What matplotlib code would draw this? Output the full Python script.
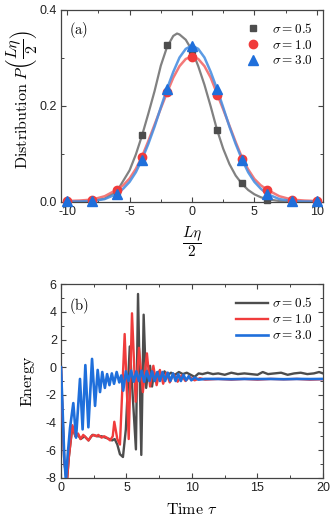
import matplotlib
matplotlib.use("Agg")
import matplotlib.pyplot as plt
from matplotlib.ticker import MultipleLocator

plt.rcParams['mathtext.fontset'] = 'cm'
plt.rcParams['font.family'] = ['Liberation Sans', 'DejaVu Sans']

# ---------------- Panel (a) data ----------------
sigma_labels = [r'$\sigma = 0.5$', r'$\sigma = 1.0$', r'$\sigma = 3.0$']

marker_x = [-10, -8, -6, -4, -2, 0, 2, 4, 6, 8, 10]
grey_pts = [0.0, 0.0, 0.022, 0.138, 0.327, 0.315, 0.148, 0.038, 0.004, 0.0, 0.0]
red_pts = [0.002, 0.003, 0.025, 0.093, 0.228, 0.302, 0.222, 0.089, 0.025, 0.003, 0.002]
blue_pts = [0.001, 0.001, 0.016, 0.086, 0.235, 0.324, 0.235, 0.087, 0.016, 0.001, 0.001]

grey_fit_x = [-10, -9, -8, -7, -6, -5, -4.5, -4, -3.5, -3, -2.5, -2, -1.5, -1.2, -1, -0.5,
              0, 0.5, 1, 1.5, 2, 2.5, 3, 3.5, 4, 4.5, 5, 5.5, 6, 7, 8, 9, 10]
grey_fit_y = [0, 0, 0.001, 0.006, 0.022, 0.065, 0.098, 0.138, 0.183, 0.23, 0.283, 0.322,
              0.345, 0.35, 0.348, 0.337, 0.315, 0.282, 0.243, 0.198, 0.15, 0.11, 0.078,
              0.054, 0.037, 0.024, 0.015, 0.009, 0.005, 0.001, 0, 0, 0]
fit_x = [-10, -9, -8, -7, -6, -5.5, -5, -4.5, -4, -3.5, -3, -2.5, -2, -1.5, -1, -0.5, 0,
         0.5, 1, 1.5, 2, 2.5, 3, 3.5, 4, 4.5, 5, 5.5, 6, 7, 8, 9, 10]
red_fit_y = [0.001, 0.002, 0.004, 0.011, 0.025, 0.034, 0.048, 0.068, 0.094, 0.126, 0.160,
             0.194, 0.227, 0.258, 0.282, 0.297, 0.302, 0.297, 0.282, 0.258, 0.225, 0.192,
             0.158, 0.124, 0.092, 0.067, 0.047, 0.034, 0.025, 0.011, 0.004, 0.002, 0.001]
blue_fit_y = [0, 0, 0.001, 0.005, 0.016, 0.027, 0.041, 0.061, 0.088, 0.12, 0.156, 0.196,
              0.235, 0.27, 0.3, 0.318, 0.325, 0.318, 0.3, 0.27, 0.235, 0.196, 0.156, 0.12,
              0.088, 0.061, 0.041, 0.027, 0.016, 0.005, 0.001, 0, 0]

# ---------------- Panel (b) data ----------------
tau_grey = [0, 0.1, 0.25, 0.45, 0.6, 0.87, 1.1, 1.3, 1.5, 1.8, 2.1, 2.4, 2.8, 3.1, 3.4,
            3.7, 3.9, 4.1, 4.3, 4.5, 4.73, 4.95, 5.25, 5.72, 5.88, 6.13, 6.31, 6.5, 6.65,
            6.8, 6.95, 7.1, 7.3, 7.5, 7.7, 7.9, 8.1, 8.4, 8.7, 9.0, 9.3, 9.6, 9.9, 10.2,
            10.5, 10.8, 11.2, 11.6, 12.0, 12.5, 13.0, 13.5, 14.0, 14.5, 15.0, 15.4, 15.8,
            16.3, 16.8, 17.3, 17.8, 18.3, 18.8, 19.3, 19.7, 20.0]
energy_grey = [0, -3.0, -6.8, -8.3, -6.5, -4.3, -5.0, -4.9, -5.2, -5.0, -5.3, -4.9, -5.0,
               -5.0, -5.1, -5.2, -5.3, -5.2, -5.6, -6.3, -6.5, -4.5, 1.5, -5.95, 5.3,
               -6.35, 3.8, -1.5, -0.3, 0.1, -1.4, -0.4, -1.0, -0.3, -0.8, -0.3, -0.6,
               -0.4, -0.55, -0.35, -0.5, -0.4, -0.55, -0.7, -0.45, -0.5, -0.4, -0.5,
               -0.45, -0.55, -0.4, -0.5, -0.45, -0.5, -0.55, -0.35, -0.5, -0.45, -0.4,
               -0.55, -0.45, -0.4, -0.5, -0.45, -0.35, -0.45]

tau_red = [0, 0.1, 0.25, 0.45, 0.6, 0.87, 1.1, 1.3, 1.5, 1.7, 1.9, 2.1, 2.3, 2.5, 2.7,
           2.85, 3.1, 3.3, 3.5, 3.75, 3.95, 4.07, 4.3, 4.5, 4.86, 5.17, 5.42, 5.7, 5.95,
           6.25, 6.56, 6.8, 7.05, 7.3, 7.55, 7.8, 8.05, 8.3, 8.6, 8.9, 9.2, 9.5, 9.8,
           10.2, 10.6, 11.0, 12.0, 13.0, 14.0, 15.0, 16.0, 17.0, 18.0, 19.0, 20.0]
energy_red = [0, -3.0, -6.8, -8.3, -6.5, -4.2, -5.0, -4.8, -5.2, -4.9, -5.1, -5.3, -5.0,
              -4.9, -5.0, -4.9, -5.1, -5.0, -5.1, -5.3, -5.0, -3.95, -5.2, -5.6, 2.4,
              -5.2, 3.9, -2.5, 1.4, -1.8, 1.0, -1.4, 0.1, -1.3, -0.2, -1.2, -0.4, -1.1,
              -0.5, -1.05, -0.6, -1.0, -0.7, -0.95, -0.8, -0.9, -0.85, -0.9, -0.85, -0.9,
              -0.85, -0.88, -0.85, -0.9, -0.87]

tau_blue = [0, 0.1, 0.25, 0.38, 0.5, 0.69, 0.94, 1.15, 1.45, 1.65, 1.86, 2.09, 2.37, 2.6,
            2.8, 2.98, 3.15, 3.35, 3.52, 3.7, 3.88, 4.05, 4.25, 4.45, 4.6, 4.75, 4.95,
            5.15, 5.35, 5.55, 5.75, 5.95, 6.15, 6.35, 6.55, 6.75, 6.95, 7.15, 7.35, 7.55,
            7.75, 7.95, 8.15, 8.35, 8.55, 8.75, 8.95, 9.15, 9.35, 9.55, 9.75, 9.95, 10.2,
            10.5, 11.0, 12.0, 13.0, 14.0, 15.0, 16.0, 17.0, 18.0, 19.0, 20.0]
energy_blue = [0, -2.5, -6.5, -8.3, -6.5, -4.4, -2.6, -5.1, -0.85, -4.5, 0.15, -4.35, 0.6,
               -2.8, -0.2, -1.8, -0.35, -1.5, -0.5, -1.3, -0.45, -1.2, -0.35, -1.1, -0.6,
               -1.7, -0.3, -1.0, -0.25, -1.05, -0.3, -1.0, -0.25, -1.05, -0.3, -1.0, -0.3,
               -1.0, -0.35, -1.0, -0.35, -1.0, -0.4, -1.0, -0.45, -1.0, -0.5, -1.0, -0.55,
               -0.95, -0.65, -0.95, -0.75, -0.9, -0.85, -0.85, -0.87, -0.85, -0.86, -0.85,
               -0.87, -0.85, -0.86, -0.85]

GREY = '#4d4d4d'
RED = '#f03c3c'
BLUE = '#1f6fdb'

fig = plt.figure(figsize=(3.32, 5.2), dpi=100)
ax1 = fig.add_axes([0.1837, 0.6125, 0.7892, 0.3692])
ax2 = fig.add_axes([0.1837, 0.0813, 0.7892, 0.3720])

def style_axes(ax):
    for s in ax.spines.values():
        s.set_color('#444444')
        s.set_linewidth(0.9)
    ax.tick_params(which='both', direction='in', top=True, right=True,
                   labelsize=9, colors='#444444', labelcolor='#222222', pad=3)
    ax.tick_params(which='major', length=3.5, width=0.8)
    ax.tick_params(which='minor', length=2, width=0.7)

# Panel (a)
ax1.plot(grey_fit_x, grey_fit_y, color='#7a7a7a', lw=1.6, alpha=0.95, zorder=2)
ax1.plot(fit_x, red_fit_y, color='#f26a6a', lw=1.8, alpha=0.9, zorder=2)
ax1.plot(fit_x, blue_fit_y, color='#4a90e2', lw=1.8, alpha=0.9, zorder=2)
ax1.plot(marker_x, grey_pts, 's', color=GREY, ms=5, ls='none', label=sigma_labels[0],
         clip_on=False, zorder=3)
ax1.plot(marker_x, red_pts, 'o', color=RED, ms=6, ls='none', label=sigma_labels[1],
         clip_on=False, zorder=3)
ax1.plot(marker_x, blue_pts, '^', color=BLUE, ms=6.5, ls='none', label=sigma_labels[2],
         clip_on=False, zorder=4)
ax1.set_xlim(-10.5, 10.5)
ax1.set_ylim(0, 0.4)
ax1.xaxis.set_major_locator(MultipleLocator(5))
ax1.xaxis.set_minor_locator(MultipleLocator(2.5))
ax1.yaxis.set_major_locator(MultipleLocator(0.2))
ax1.yaxis.set_minor_locator(MultipleLocator(0.1))
ax1.set_xticks([-10, -5, 0, 5, 10])
ax1.set_xticklabels(['-10', '-5', '0', '5', '10'])
ax1.set_yticks([0.0, 0.2, 0.4])
ax1.set_yticklabels(['0.0', '0.2', '0.4'])
style_axes(ax1)
ax1.set_xlabel(r'$\dfrac{L\eta}{2}$', fontsize=11, labelpad=5)
ax1.set_ylabel(r'$\mathrm{Distribution}\ P\left(\dfrac{L\eta}{2}\right)$', fontsize=11.5)
ax1.yaxis.set_label_coords(-0.085, 0.53)
ax1.text(0.03, 0.895, r'$\mathrm{(a)}$', transform=ax1.transAxes, fontsize=10.5,
         va='center', ha='left')
leg1 = ax1.legend(loc='upper right', frameon=False, fontsize=9.5, handlelength=1.0,
                  handletextpad=0.9, labelspacing=0.22, borderaxespad=0.3,
                  bbox_to_anchor=(0.995, 0.985))

# Panel (b)
ax2.plot(tau_grey, energy_grey, color=GREY, lw=1.7, label=sigma_labels[0], zorder=2)
ax2.plot(tau_red, energy_red, color=RED, lw=1.7, label=sigma_labels[1], zorder=3)
ax2.plot(tau_blue, energy_blue, color=BLUE, lw=1.9, label=sigma_labels[2], zorder=4)
ax2.set_xlim(0, 20)
ax2.set_ylim(-8, 6)
ax2.xaxis.set_major_locator(MultipleLocator(5))
ax2.xaxis.set_minor_locator(MultipleLocator(2.5))
ax2.yaxis.set_major_locator(MultipleLocator(2))
ax2.yaxis.set_minor_locator(MultipleLocator(1))
ax2.set_yticks([-8, -6, -4, -2, 0, 2, 4, 6])
ax2.set_yticklabels(['-8', '-6', '-4', '-2', '0', '2', '4', '6'])
ax2.set_xticks([0, 5, 10, 15, 20])
ax2.set_xticklabels(['0', '5', '10', '15', '20'])
style_axes(ax2)
ax2.set_xlabel(r'$\mathrm{Time}\ \tau$', fontsize=11.5, labelpad=6)
ax2.set_ylabel(r'$\mathrm{Energy}$', fontsize=11.5, labelpad=6)
ax2.text(0.03, 0.89, r'$\mathrm{(b)}$', transform=ax2.transAxes, fontsize=10.5,
         va='center', ha='left')
ax2.legend(loc='upper right', frameon=False, fontsize=9.5, handlelength=2.4,
           handletextpad=0.3, labelspacing=0.22, borderaxespad=0.3,
           bbox_to_anchor=(0.995, 0.985))

fig.savefig('out.png', dpi=100)
